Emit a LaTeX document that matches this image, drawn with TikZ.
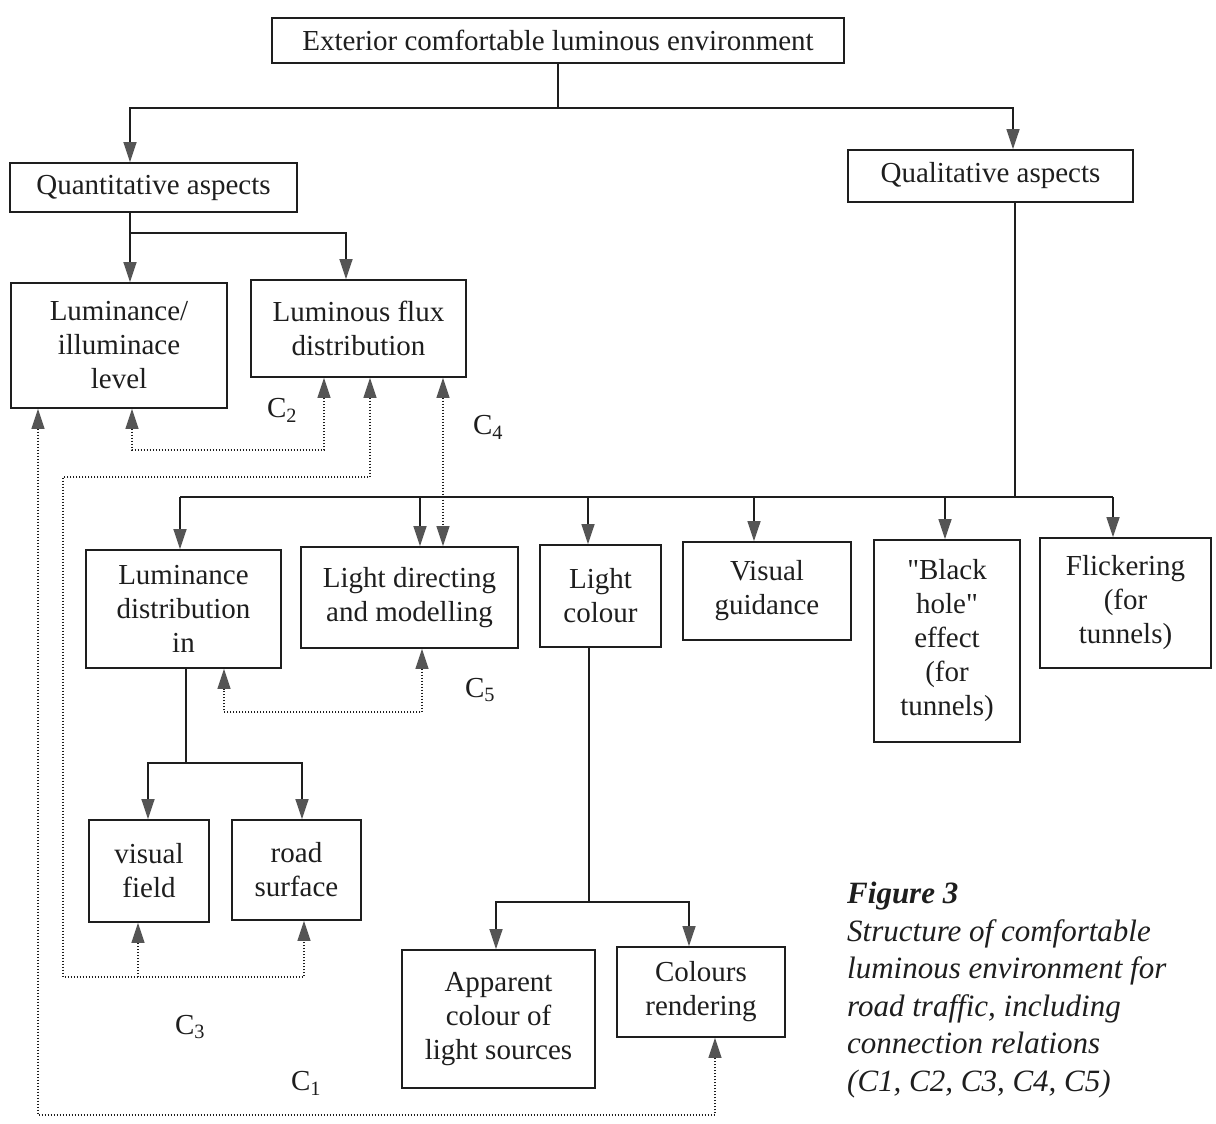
\documentclass[tikz,border=0pt]{standalone}
\usepackage{fontspec}
\setmainfont{Liberation Serif}[Ligatures=TeXOff]
\usetikzlibrary{arrows.meta}
\definecolor{ink}{HTML}{1E1E1E}
\definecolor{tipgray}{HTML}{555555}
\begin{document}
\begin{tikzpicture}[x=1pt,y=-1pt,
  box/.style={draw=ink,line width=1.8pt,inner sep=0pt,align=center,
    font=\fontsize{29}{34}\selectfont,text=ink},
  line/.style={draw=ink,line width=1.6pt},
  dotl/.style={draw=ink,line width=1.4pt,dash pattern=on 1.4pt off 1.6pt},
  >={Triangle[width=13pt,length=20pt,color=tipgray]},
  lab/.style={font=\fontsize{29}{34}\selectfont,text=ink,inner sep=0pt}]
\useasboundingbox[fill=white] (0,0) rectangle (1216,1124);

% boxes
\node[box,minimum width=572pt,minimum height=45pt] (ext) at (558,40.5) {Exterior comfortable luminous environment};
\node[box,minimum width=287pt,minimum height=49pt] (quant) at (153.5,187.5) {Quantitative aspects};
\node[box,minimum width=285pt,minimum height=52pt] (qual) at (990.5,176) {Qualitative aspects};
\node[box,minimum width=216pt,minimum height=125pt] (lum) at (119,345.5) {Luminance/\\illuminace\\level};
\node[box,minimum width=215pt,minimum height=97pt] (flux) at (358.5,328.5) {Luminous flux\\distribution};
\node[box,minimum width=195pt,minimum height=118pt] (ldist) at (183.5,609) {Luminance\\distribution\\in};
\node[box,minimum width=217pt,minimum height=101pt] (ldir) at (409.5,597.5) {Light directing\\and modelling};
\node[box,minimum width=121pt,minimum height=102pt] (lcol) at (600.5,596) {Light\\colour};
\node[box,minimum width=168pt,minimum height=98pt] (vguid) at (767,591) {Visual\\guidance};
\node[box,minimum width=146pt,minimum height=202pt] (bhole) at (947,641) {"Black\\hole"\\effect\\(for\\tunnels)};
\node[box,minimum width=171pt,minimum height=130pt] (flick) at (1125.5,603) {Flickering\\(for\\tunnels)};
\node[box,minimum width=120pt,minimum height=102pt] (vfield) at (149,871) {visual\\field};
\node[box,minimum width=129pt,minimum height=100pt] (rsurf) at (296.5,870) {road\\surface};
\node[box,minimum width=193pt,minimum height=138pt] (appar) at (498.5,1019) {Apparent\\colour of\\light sources};
\node[box,minimum width=168pt,minimum height=90pt] (crend) at (701,992) {Colours\\rendering};

% solid connectors
\draw[line] (ext.south) -- (ext.south |- 0,108) coordinate (j1);
\draw[line,->] (j1) -| (130,0 |- quant.north);
\draw[line,->] (j1) -| (1013,0 |- qual.north);
\draw[line,->] (130,0 |- quant.south) -- (130,0 |- lum.north);
\draw[line,->] (130,233) -| (346,0 |- flux.north);
\draw[line] (1015,0 |- qual.south) -- (1015,497);
\draw[line] (180,497) -- (1113,497);
\foreach \xx/\nn in {180/ldist,420/ldir,588/lcol,754/vguid,945/bhole,1113/flick}
  \draw[line,->] (\xx,497) -- (\xx,0 |- \nn.north);
\draw[line] (186,0 |- ldist.south) -- (186,763);
\draw[line,->] (186,763) -| (148,0 |- vfield.north);
\draw[line,->] (186,763) -| (302,0 |- rsurf.north);
\draw[line] (589,0 |- lcol.south) -- (589,902);
\draw[line,->] (589,902) -| (496,0 |- appar.north);
\draw[line,->] (589,902) -| (689,0 |- crend.north);

% dotted connection relations
\draw[dotl,<->] (38,0 |- lum.south) -- (38,1115) -- (715,1115) -- (715,0 |- crend.south);
\draw[dotl,<->] (132,0 |- lum.south) |- (324,450) -- (324,0 |- flux.south);
\draw[dotl,<->] (370,0 |- flux.south) |- (63,477) -- (63,977) -| (304,0 |- rsurf.south);
\draw[dotl,->] (138,977) -- (138,0 |- vfield.south);
\draw[dotl,<->] (443,0 |- flux.south) -- (443,0 |- ldir.north);
\draw[dotl,<->] (422,0 |- ldir.south) |- (224,712) -- (224,0 |- ldist.south);

% labels
\node[lab] (c2) at (282,410) {C\textsubscript{2}};
\node[lab] (c4) at (488,427) {C\textsubscript{4}};
\node[lab] (c5) at (480,690) {C\textsubscript{5}};
\node[lab] (c3) at (190,1027) {C\textsubscript{3}};
\node[lab] (c1) at (306,1083) {C\textsubscript{1}};

% caption
\node[anchor=north west,align=left,inner sep=0pt,text=ink,
  font=\fontsize{31}{37.5}\selectfont\itshape] (cap) at (847,882)
  {\textbf{Figure 3}\\Structure of comfortable\\luminous environment for\\road traffic, including\\connection relations\\(C1, C2, C3, C4, C5)};
\end{tikzpicture}
\end{document}
